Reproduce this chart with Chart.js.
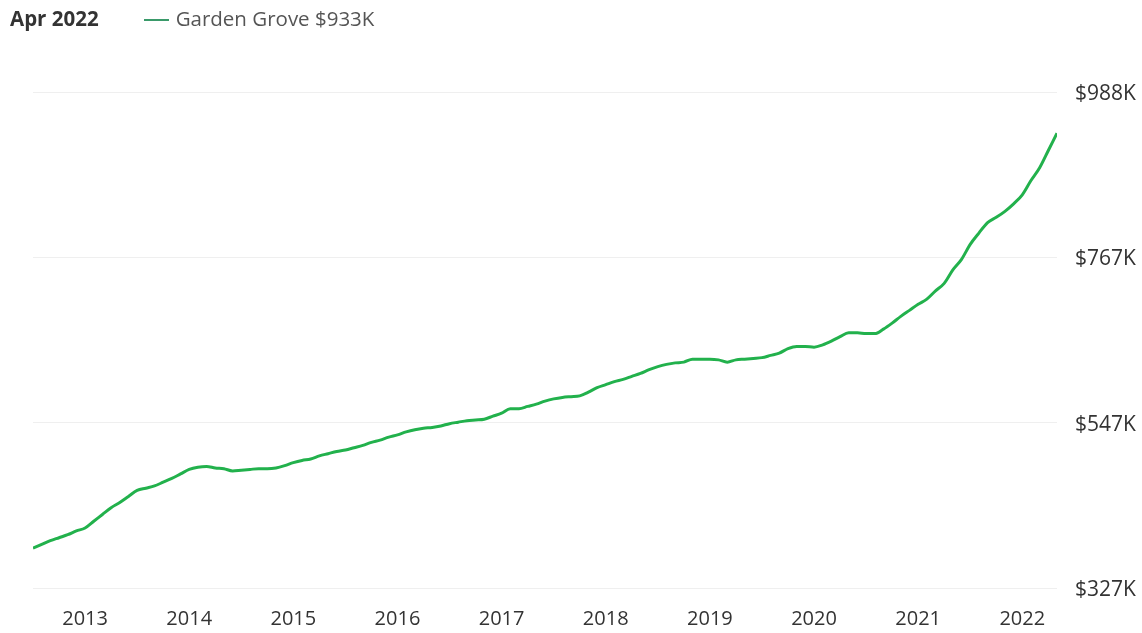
<!DOCTYPE html>
<html>
<head>
<meta charset="utf-8">
<script src="https://cdn.jsdelivr.net/npm/chart.js@4"></script>
<style>
  html, body { margin: 0; padding: 0; background: #fff; }
  #wrap { position: relative; width: 1142px; height: 633px; }
  #chart { position: absolute; left: 0; top: 0; }
  #hdr { position: absolute; left: 10px; top: 4px; font-family: "Open Sans", sans-serif; font-size: 20.5px; line-height: 28px; white-space: nowrap; }
  #hdr .date { font-weight: bold; color: #333; }
  #hdr .sw { display: inline-block; width: 25px; height: 2px; background: #3a9a6a; vertical-align: middle; margin: 0 7px 0 45px; position: relative; top: -1px; }
  #hdr .name { color: #555; }
</style>
</head>
<body>
<div id="wrap">
  <canvas id="chart" width="1142" height="633"></canvas>
  <div id="hdr"><span class="date">Apr 2022</span><span class="sw"></span><span class="name">Garden Grove $933K</span></div>
</div>
<script>
// Monthly median home value, Garden Grove (thousands USD), Jun 2012 .. Apr 2022
const startYear = 2012;
const startMonth = 5; // June (0-based)
const values = [
  380, 385, 390, 394, 398, 403, 407, 416, 425, 434, 441, 449,
  457, 460, 463, 468, 473, 479, 485, 488, 489, 487, 486, 483,
  484, 485, 486, 486, 487, 490, 494, 497, 499, 503, 506, 509,
  511, 514, 517, 521, 524, 528, 531, 535, 538, 540, 541, 543,
  546, 548, 550, 551, 552, 556, 560, 566, 566, 569, 572, 576,
  579, 581, 582, 583, 588, 594, 598, 602, 605, 609, 613, 618,
  622, 625, 627, 628, 632, 632, 632, 631, 628, 631, 632, 633,
  634, 637, 640, 646, 649, 649, 648, 651, 656, 662, 667, 667,
  666, 666, 672, 680, 689, 697, 705, 712, 723, 733, 751, 765,
  785, 800, 814, 821, 829, 839, 851, 870, 887, 910, 933
];
const yearTickIndex = [6, 18, 30, 42, 54, 66, 78, 90, 102, 114];
const yearTickLabels = ['2013', '2014', '2015', '2016', '2017', '2018', '2019', '2020', '2021', '2022'];
const yTickValues = [327, 547.33, 767.67, 988];
const yTickLabels = ['$327K', '$547K', '$767K', '$988K'];
const seriesName = 'Garden Grove';

const points = values.map((v, i) => ({ x: i, y: v }));

new Chart(document.getElementById('chart'), {
  type: 'line',
  data: {
    datasets: [{
      label: seriesName,
      data: points,
      borderColor: '#22b14c',
      borderWidth: 3,
      pointRadius: 0,
      tension: 0.4,
      cubicInterpolationMode: 'monotone',
      fill: false
    }]
  },
  options: {
    responsive: false,
    animation: false,
    devicePixelRatio: 1,
    layout: { padding: { left: 33, top: 92, right: 0, bottom: 0 } },
    plugins: { legend: { display: false }, tooltip: { enabled: false } },
    scales: {
      x: {
        type: 'linear',
        min: 0,
        max: values.length - 1,
        grid: { display: false, drawTicks: false },
        border: { display: false },
        afterBuildTicks: (s) => { s.ticks = yearTickIndex.map(v => ({ value: v })); },
        afterFit: (s) => { s.height = 45; },
        ticks: {
          autoSkip: false,
          maxRotation: 0,
          padding: 19,
          color: '#333',
          font: { family: 'Open Sans', size: 20 },
          callback: (v) => { const k = yearTickIndex.indexOf(v); return k >= 0 ? yearTickLabels[k] : ''; }
        }
      },
      y: {
        position: 'right',
        min: 327,
        max: 988,
        grid: { color: '#efefef', lineWidth: 1, drawTicks: false },
        border: { display: false },
        afterBuildTicks: (s) => { s.ticks = yTickValues.map(v => ({ value: v })); },
        afterFit: (s) => { s.width = 85; },
        ticks: {
          padding: 18,
          labelOffset: 2,
          color: '#333',
          font: { family: 'Open Sans', size: 21 },
          callback: (v) => { const k = yTickValues.indexOf(v); return k >= 0 ? yTickLabels[k] : ''; }
        }
      }
    }
  }
});
</script>
</body>
</html>
